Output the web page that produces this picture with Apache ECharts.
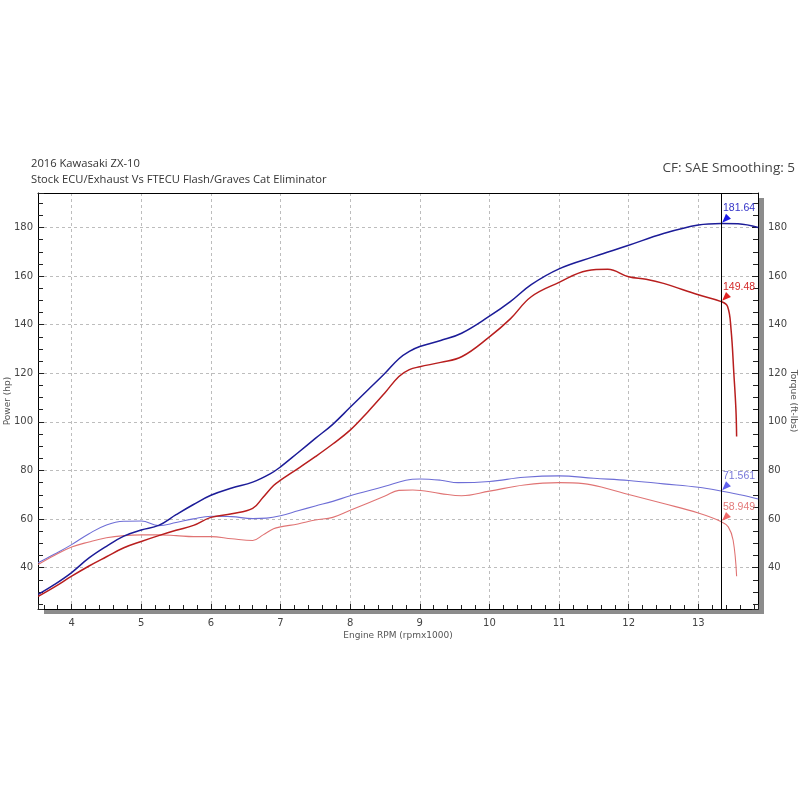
<!DOCTYPE html>
<html lang="en">
<head>
    <meta charset="UTF-8">
    <title>2016 Kawasaki ZX-10</title>
    <script type="text/javascript" src="https://cdn.jsdelivr.net/npm/echarts@6/dist/echarts.min.js"></script>
</head>
<body style="height: 800px; margin: 0; width: 800px; background: #fff">
<div id="container" style="height: 800px; width: 800px"></div>
<script type="text/javascript">
    // FTECU flash run (blue), power in hp
    var rpmPowerB = [3.52, 3.75, 4.0, 4.25, 4.5, 4.75, 5.0, 5.25, 5.5, 5.75, 6.0, 6.3, 6.6, 6.85, 7.0, 7.25, 7.5, 7.75, 8.0, 8.25, 8.5, 8.7, 8.85, 9.0, 9.3, 9.6, 10.0, 10.3, 10.6, 11.0, 11.5, 12.0, 12.5, 13.0, 13.33, 13.57, 13.86];
    var powerB = [29, 33, 38, 44, 48.8, 53, 55.5, 57.4, 61.8, 66, 69.8, 72.8, 75.2, 78.6, 81.5, 87.3, 93.2, 99, 106, 113, 120, 126, 129, 131, 133.5, 136.5, 143.5, 149.5, 156.5, 163, 168, 172.7, 177.5, 181, 181.64, 181.5, 180];
    // stock run (red), power in hp
    var rpmPowerR = [3.52, 3.75, 4.0, 4.25, 4.5, 4.75, 5.0, 5.25, 5.5, 5.75, 6.0, 6.3, 6.6, 6.75, 6.9, 7.0, 7.25, 7.5, 7.75, 8.0, 8.25, 8.5, 8.7, 8.85, 9.0, 9.3, 9.6, 10.0, 10.3, 10.6, 11.0, 11.4, 11.7, 12.0, 12.25, 12.5, 13.0, 13.33, 13.42, 13.47, 13.51, 13.54, 13.55];
    var powerR = [28.2, 32, 36.5, 40.7, 44.5, 48.2, 50.8, 53.2, 55.4, 57.4, 60.7, 62.2, 64.4, 69, 73.8, 76, 80.8, 85.7, 90.9, 96.6, 104, 112, 118.7, 121.5, 122.7, 124.5, 126.8, 135, 142.4, 151.5, 157.4, 162.2, 162.8, 159.7, 158.7, 157, 152.3, 149.48, 147.5, 138, 120, 105, 94];
    // torque in ft-lbs
    var rpmTorqueB = [3.52, 3.75, 4.0, 4.25, 4.5, 4.75, 5.0, 5.25, 5.5, 5.75, 6.0, 6.3, 6.6, 6.8, 7.0, 7.25, 7.5, 7.75, 8.0, 8.5, 8.8, 9.0, 9.3, 9.55, 10.0, 10.5, 11.0, 11.5, 12.0, 12.5, 13.0, 13.33, 13.6, 13.86];
    var torqueB = [42, 45.5, 49.5, 54, 57.6, 59.1, 59.2, 57.3, 58.6, 60.1, 61.2, 61, 60.2, 60.4, 61.4, 63.4, 65.4, 67.3, 69.6, 73.5, 76, 76.5, 76, 75, 75.5, 77.2, 77.8, 76.8, 75.9, 74.5, 73.1, 71.561, 70, 68.3];
    var rpmTorqueR = [3.52, 3.75, 4.0, 4.25, 4.5, 4.75, 5.0, 5.25, 5.5, 5.75, 6.0, 6.3, 6.6, 6.75, 6.9, 7.0, 7.25, 7.5, 7.75, 8.0, 8.5, 8.7, 8.9, 9.3, 9.6, 10.0, 10.5, 11.0, 11.35, 11.7, 12.0, 12.5, 13.0, 13.33, 13.43, 13.5, 13.55];
    var torqueR = [41.3, 45, 48.5, 50.6, 52.3, 53.2, 53.5, 53.5, 53.2, 52.8, 52.8, 51.9, 51.2, 53.5, 56, 56.8, 58, 59.6, 60.7, 63.6, 69.5, 71.8, 72, 70.5, 69.6, 71.5, 74, 75, 74.6, 72.5, 70.1, 66.4, 62.5, 58.949, 56.8, 51.3, 36.5];

    // cursor readout
    var cursorRpm = 13.33;
    var cursorValues = [181.64, 149.48, 71.561, 58.949];

    var lineColors = ['#1c1c98', '#b81e1e', '#6e6ed6', '#e07474'];
    var markColors = ['#1a1ae8', '#e02424', '#6262ee', '#f06a6a'];
    var labelColors = ['#3434c8', '#d42a2a', '#7878d8', '#e47a7a'];

    function pairs(xs, ys) {
        var out = [];
        for (var i = 0; i < xs.length; i++) out.push([xs[i], ys[i]]);
        return out;
    }

    function cursorMark(i) {
        return {
            symbol: 'triangle',
            symbolSize: [7, 9],
            symbolRotate: 135,
            symbolOffset: [4, -4],
            itemStyle: {color: markColors[i]},
            label: {
                show: true, position: 'right', distance: 0, offset: [-8, -11],
                formatter: '{c}', color: labelColors[i],
                fontFamily: 'Liberation Sans', fontSize: 10.5
            },
            data: [{coord: [cursorRpm, cursorValues[i]], value: cursorValues[i]}]
        };
    }

    var dom = document.getElementById("container");
    var myChart = echarts.init(dom);

    var axisFont = {fontFamily: 'DejaVu Sans', fontSize: 10, color: '#444'};
    var nameFont = {fontFamily: 'DejaVu Sans', fontSize: 9, color: '#555'};
    var tickStyle = {color: '#222'};
    var gridDash = {color: '#bdbdbd', type: [3, 3]};

    var option = {
        animation: false,
        backgroundColor: '#fff',
        title: [
            {text: '2016 Kawasaki ZX-10', left: 31, top: 158, padding: 0,
                textStyle: {fontFamily: 'Open Sans', fontSize: 11.2, fontWeight: 'normal', color: '#333'}},
            {text: 'Stock ECU/Exhaust Vs FTECU Flash/Graves Cat Eliminator', left: 31, top: 174, padding: 0,
                textStyle: {fontFamily: 'Open Sans', fontSize: 11.2, fontWeight: 'normal', color: '#333'}},
            {text: 'CF: SAE Smoothing: 5', right: 5, top: 161, padding: 0,
                textStyle: {fontFamily: 'Open Sans', fontSize: 13.5, fontWeight: 'normal', color: '#444'}}
        ],
        grid: {
            left: 38, right: 42, top: 193, bottom: 191,
            outerBoundsMode: 'none', containLabel: false,
            show: true, backgroundColor: '#fff', borderWidth: 0,
            shadowColor: '#8c8c8c', shadowOffsetX: 6, shadowOffsetY: 5, shadowBlur: 0
        },
        xAxis: [
            {
                type: 'value', min: 3.517, max: 13.857, splitNumber: 10, minInterval: 1, maxInterval: 1,
                name: 'Engine RPM (rpmx1000)', nameLocation: 'middle', nameGap: 22, nameMoveOverlap: false,
                nameTextStyle: nameFont,
                axisLine: {show: true, lineStyle: {color: '#000'}},
                axisTick: {show: true, inside: true, length: 5, lineStyle: tickStyle},
                minorTick: {show: true, splitNumber: 5, length: 4, lineStyle: tickStyle},
                splitLine: {show: true, lineStyle: gridDash},
                axisLabel: Object.assign({showMinLabel: false, showMaxLabel: false, margin: 9}, axisFont)
            },
            {
                // top frame edge
                type: 'value', position: 'top', min: 3.517, max: 13.857,
                axisLine: {show: true, onZero: false, lineStyle: {color: '#000'}},
                axisTick: {show: false}, axisLabel: {show: false}, splitLine: {show: false}
            }
        ],
        yAxis: [
            {
                type: 'value', min: 23, max: 194.2, splitNumber: 8, minInterval: 20, maxInterval: 20,
                name: 'Power (hp)', nameLocation: 'middle', nameGap: 26, nameRotate: 90, nameMoveOverlap: false,
                nameTextStyle: nameFont,
                axisLine: {show: true, onZero: false, lineStyle: {color: '#000'}},
                axisTick: {show: true, inside: true, length: 6, lineStyle: tickStyle},
                minorTick: {show: true, splitNumber: 4, length: 5, lineStyle: tickStyle},
                splitLine: {show: true, lineStyle: gridDash},
                axisLabel: Object.assign({showMinLabel: false, showMaxLabel: false, margin: 5}, axisFont)
            },
            {
                type: 'value', position: 'right', min: 23, max: 194.2, splitNumber: 8, minInterval: 20, maxInterval: 20,
                name: 'Torque (ft-lbs)', nameLocation: 'middle', nameGap: 31, nameRotate: -90, nameMoveOverlap: false,
                nameTextStyle: nameFont,
                axisLine: {show: true, onZero: false, lineStyle: {color: '#000'}},
                axisTick: {show: true, inside: true, length: 6, lineStyle: tickStyle},
                minorTick: {show: true, splitNumber: 4, length: 5, lineStyle: tickStyle},
                splitLine: {show: false},
                axisLabel: Object.assign({showMinLabel: false, showMaxLabel: false, margin: 10}, axisFont)
            }
        ],
        series: [
            {
                name: 'Power FTECU', type: 'line', yAxisIndex: 0, data: pairs(rpmPowerB, powerB),
                showSymbol: false, smooth: 0.4, z: 4,
                lineStyle: {color: lineColors[0], width: 1.5},
                markPoint: cursorMark(0),
                markLine: {
                    silent: true, symbol: ['none', 'none'], label: {show: false},
                    lineStyle: {color: '#000', width: 1, type: 'solid'},
                    data: [{xAxis: cursorRpm}]
                }
            },
            {
                name: 'Power Stock', type: 'line', yAxisIndex: 0, data: pairs(rpmPowerR, powerR),
                showSymbol: false, smooth: 0.4, z: 4,
                lineStyle: {color: lineColors[1], width: 1.5},
                markPoint: cursorMark(1)
            },
            {
                name: 'Torque FTECU', type: 'line', yAxisIndex: 1, data: pairs(rpmTorqueB, torqueB),
                showSymbol: false, smooth: 0.4, z: 3,
                lineStyle: {color: lineColors[2], width: 1.1},
                markPoint: cursorMark(2)
            },
            {
                name: 'Torque Stock', type: 'line', yAxisIndex: 1, data: pairs(rpmTorqueR, torqueR),
                showSymbol: false, smooth: 0.4, z: 3,
                lineStyle: {color: lineColors[3], width: 1.1},
                markPoint: cursorMark(3)
            }
        ]
    };

    myChart.setOption(option, true);
</script>
</body>
</html>
